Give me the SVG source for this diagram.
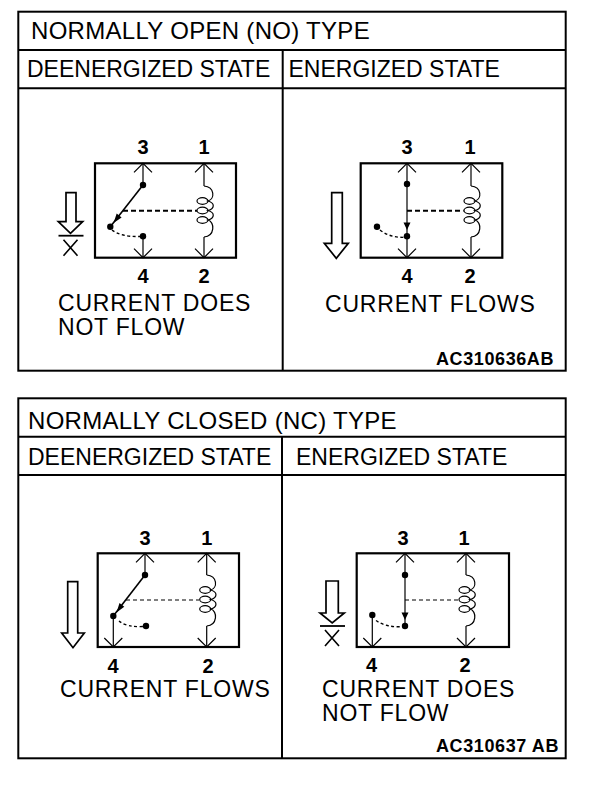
<svg xmlns="http://www.w3.org/2000/svg" xmlns:xlink="http://www.w3.org/1999/xlink" width="608" height="796" viewBox="0 0 608 796">
<style>
.frame{fill:none;stroke:#000;stroke-width:2}
.box{fill:none;stroke:#000;stroke-width:2.2}
.w{fill:none;stroke:#000;stroke-width:1.2}
.arm{fill:none;stroke:#000;stroke-width:1.6}
.dashT{fill:none;stroke:#000;stroke-width:2;stroke-dasharray:5 3}
.dashN{fill:none;stroke:#000;stroke-width:1.1;stroke-dasharray:4 3}
.dashC{fill:none;stroke:#000;stroke-width:1.4;stroke-dasharray:3 2.5}
.oarrow{fill:#fff;stroke:#000;stroke-width:1.7}
.hd{font-family:"Liberation Sans",Arial,sans-serif;font-size:23px;fill:#000}
.ti{font-family:"Liberation Sans",Arial,sans-serif;font-size:24px;fill:#000;letter-spacing:0.3px}
.cur{font-family:"Liberation Sans",Arial,sans-serif;font-size:23px;fill:#000;letter-spacing:0.8px}
.num{font-family:"Liberation Sans",Arial,sans-serif;font-size:20px;font-weight:bold;fill:#000;text-anchor:middle}
.code{font-family:"Liberation Sans",Arial,sans-serif;font-size:18px;font-weight:bold;fill:#000;letter-spacing:0.6px}
</style>
<defs>
<g id="coil">
<path class="w" d="M0,0 C11,1 11,13 4,15 C11,17 11,22.5 4,24.5 C11,26.5 11,32 4,34 C11,36 11,50 0,51"/>
<ellipse cx="-1.5" cy="15" rx="5.5" ry="3.3" class="w"/>
<ellipse cx="-1.5" cy="24.5" rx="5.5" ry="3.3" class="w"/>
<ellipse cx="-1.5" cy="34" rx="5.5" ry="3.3" class="w"/>
</g>
<path id="chevUp" class="w" d="M-9,9 L0,0 L9,9"/>
<path id="chevDn" class="w" d="M-9,-9 L0,0 L9,-9"/>
<g id="noflow">
<line x1="-12" y1="0" x2="13" y2="0" stroke="#000" stroke-width="1.8"/>
<path d="M-7,4 L7,20 M7,4 L-7,20" stroke="#000" stroke-width="1.6" fill="none"/>
</g>
</defs>
<rect width="608" height="796" fill="#fff"/>

<g id="frame-no">
<rect class="frame" x="18.3" y="11.7" width="547.4" height="359"/>
<line class="frame" x1="18.3" y1="50" x2="565.7" y2="50"/>
<line class="frame" x1="18.3" y1="88.3" x2="565.7" y2="88.3"/>
<line class="frame" x1="282.7" y1="50" x2="282.7" y2="370.7"/>
<text class="ti" x="31" y="38.5">NORMALLY OPEN (NO) TYPE</text>
<text class="hd" x="27" y="77">DEENERGIZED STATE</text>
<text class="hd" x="288.5" y="77">ENERGIZED STATE</text>
<text class="cur" x="58" y="311">CURRENT DOES</text>
<text class="cur" x="58" y="335">NOT FLOW</text>
<text class="cur" x="325" y="311.5">CURRENT FLOWS</text>
<text class="code" x="436" y="365">AC310636AB</text>
</g>

<g id="relay-no-deenergized">
<rect class="box" x="95" y="163.3" width="141" height="94.4"/>
<text class="num" x="143" y="154">3</text>
<text class="num" x="204" y="154">1</text>
<text class="num" x="143" y="283">4</text>
<text class="num" x="204" y="283">2</text>
<use xlink:href="#chevUp" x="143" y="163.3"/>
<use xlink:href="#chevDn" x="143" y="257.7"/>
<use xlink:href="#chevUp" x="204" y="163.3"/>
<use xlink:href="#chevDn" x="204" y="257.7"/>
<line class="w" x1="143" y1="163.3" x2="143" y2="185"/>
<line class="arm" x1="143" y1="185" x2="110.3" y2="226.7"/>
<polygon points="113.5,223 121.6,217.5 116.7,213.6" fill="#000"/>
<circle cx="143" cy="185" r="3.2"/>
<circle cx="110.3" cy="226.7" r="3.2"/>
<line class="dashT" x1="123" y1="210.7" x2="197" y2="210.7"/>
<path class="dashC" d="M112,230 Q121,237 140,236.5"/>
<circle cx="143" cy="236.3" r="3.2"/>
<line class="w" x1="143" y1="236.3" x2="143" y2="257.7"/>
<line class="w" x1="204" y1="163.3" x2="204" y2="186"/>
<use xlink:href="#coil" x="204" y="186"/>
<line class="w" x1="204" y1="237" x2="204" y2="257.7"/>
<path class="oarrow" d="M66,192.7 H76 V221.7 H82.7 L70.5,233.3 L58.3,221.7 H66 Z"/>
<use xlink:href="#noflow" x="70.5" y="235.7"/>
</g>

<g id="relay-no-energized">
<rect class="box" x="360.7" y="163.3" width="141.6" height="94.4"/>
<text class="num" x="407" y="154">3</text>
<text class="num" x="470" y="154">1</text>
<text class="num" x="407" y="283">4</text>
<text class="num" x="470" y="283">2</text>
<use xlink:href="#chevUp" x="407" y="163.3"/>
<use xlink:href="#chevDn" x="407" y="257.7"/>
<use xlink:href="#chevUp" x="471" y="163.3"/>
<use xlink:href="#chevDn" x="471" y="257.7"/>
<line class="w" x1="407" y1="163.3" x2="407" y2="257.7"/>
<circle cx="407" cy="184" r="3.2"/>
<polygon points="403.5,222.5 410.5,222.5 407,230" fill="#000"/>
<circle cx="407" cy="236.3" r="3.2"/>
<line class="dashT" x1="407" y1="210.7" x2="463.5" y2="210.7"/>
<circle cx="377" cy="226.7" r="3.2"/>
<path class="dashC" d="M380,230 Q390,237.8 404,237.3"/>
<line class="w" x1="471" y1="163.3" x2="471" y2="186"/>
<use xlink:href="#coil" x="471" y="186"/>
<line class="w" x1="471" y1="237" x2="471" y2="257.7"/>
<path class="oarrow" d="M331.7,192.7 H342.3 V243.3 H348.3 L336.3,258.3 L324.3,243.3 H331.7 Z"/>
</g>

<g id="frame-nc">
<rect class="frame" x="18.3" y="398.3" width="547.4" height="360"/>
<line class="frame" x1="18.3" y1="436.7" x2="565.7" y2="436.7"/>
<line class="frame" x1="18.3" y1="475" x2="565.7" y2="475"/>
<line class="frame" x1="282" y1="436.7" x2="282" y2="758.3"/>
<text class="ti" x="28" y="428.5">NORMALLY CLOSED (NC) TYPE</text>
<text class="hd" x="28" y="465">DEENERGIZED STATE</text>
<text class="hd" x="296" y="465">ENERGIZED STATE</text>
<text class="cur" x="60" y="697">CURRENT FLOWS</text>
<text class="cur" x="322" y="697">CURRENT DOES</text>
<text class="cur" x="322" y="721">NOT FLOW</text>
<text class="code" x="436" y="752">AC310637 AB</text>
</g>

<g id="relay-nc-deenergized">
<rect class="box" x="97.7" y="553.3" width="141.3" height="93.7"/>
<text class="num" x="145" y="545">3</text>
<text class="num" x="206.7" y="545">1</text>
<text class="num" x="113" y="673">4</text>
<text class="num" x="208" y="673">2</text>
<use xlink:href="#chevUp" x="145" y="553.3"/>
<use xlink:href="#chevUp" x="206.7" y="553.3"/>
<use xlink:href="#chevDn" x="113.3" y="647"/>
<use xlink:href="#chevDn" x="206.7" y="647"/>
<line class="w" x1="145" y1="553.3" x2="145" y2="575"/>
<line class="arm" x1="145" y1="575" x2="113.3" y2="616"/>
<polygon points="116.5,612.5 124.3,606.8 119.5,603" fill="#000"/>
<circle cx="145" cy="575" r="3.2"/>
<circle cx="113.3" cy="616" r="3.2"/>
<line class="dashN" x1="126" y1="600" x2="199" y2="600"/>
<line class="w" x1="113.3" y1="616" x2="113.3" y2="647"/>
<path class="dashC" d="M119,621 Q127,627.5 143,626.5"/>
<circle cx="146" cy="626" r="3.2"/>
<line class="w" x1="206.7" y1="553.3" x2="206.7" y2="575"/>
<use xlink:href="#coil" x="206.7" y="575"/>
<line class="w" x1="206.7" y1="626" x2="206.7" y2="647"/>
<path class="oarrow" d="M67.7,581.7 H77.7 V633 H84.3 L73,647.7 L61.7,633 H67.7 Z"/>
</g>

<g id="relay-nc-energized">
<rect class="box" x="356.7" y="553.3" width="152.3" height="93.7"/>
<text class="num" x="403" y="545">3</text>
<text class="num" x="464" y="545">1</text>
<text class="num" x="371.5" y="672">4</text>
<text class="num" x="465" y="672">2</text>
<use xlink:href="#chevUp" x="405" y="553.3"/>
<use xlink:href="#chevUp" x="466" y="553.3"/>
<use xlink:href="#chevDn" x="372.3" y="647"/>
<use xlink:href="#chevDn" x="466" y="647"/>
<line class="w" x1="405" y1="553.3" x2="405" y2="626"/>
<circle cx="405" cy="575" r="3.2"/>
<polygon points="401.5,612.5 408.5,612.5 405,620" fill="#000"/>
<circle cx="405" cy="626" r="3.2"/>
<line class="dashN" x1="405" y1="600" x2="460" y2="600"/>
<circle cx="372.3" cy="615" r="3.2"/>
<line class="w" x1="372.3" y1="615" x2="372.3" y2="647"/>
<path class="dashC" d="M376,620.5 Q386,627.5 402,626.7"/>
<line class="w" x1="466" y1="553.3" x2="466" y2="575"/>
<use xlink:href="#coil" x="466" y="575"/>
<line class="w" x1="466" y1="626" x2="466" y2="647"/>
<path class="oarrow" d="M326,581 H338.3 V613 H344.3 L332.2,623 L320,613 H326 Z"/>
<use xlink:href="#noflow" x="332" y="626"/>
</g>
</svg>
